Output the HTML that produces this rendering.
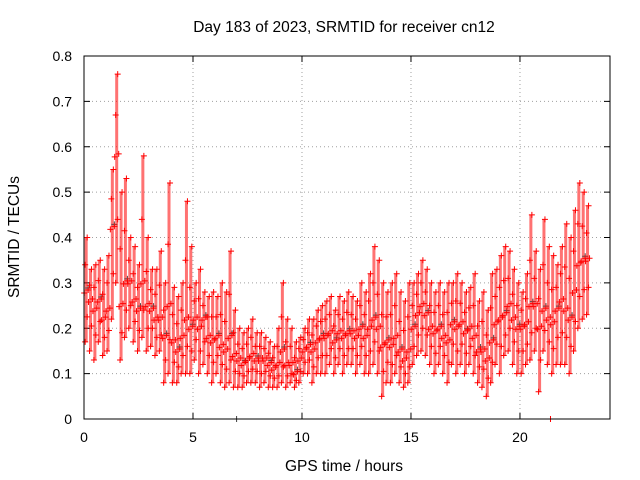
<!DOCTYPE html>
<html><head><meta charset="utf-8"><style>
body{margin:0;background:#fff;}
svg{display:block;font-family:"Liberation Sans",sans-serif;}
</style></head><body>
<svg id="chart" width="640" height="480" viewBox="0 0 640 480">
<rect width="640" height="480" fill="#fff"/>
<text x="344" y="32" font-size="15.5" text-anchor="middle">Day 183 of 2023, SRMTID for receiver cn12</text>
<text transform="translate(19,237) rotate(-90)" font-size="15.5" text-anchor="middle">SRMTID / TECUs</text>
<text x="344" y="471" font-size="15.5" text-anchor="middle">GPS time / hours</text>
<g id="grid"></g>
<g id="ticks"></g>
<g id="marks"></g>
<rect x="84" y="56" width="526" height="363" fill="none" stroke="#000" stroke-width="1"/>
</svg>
<script>
const xTicks=[0,5,10,15,20];
const yTicks=[0,0.1,0.2,0.3,0.4,0.5,0.6,0.7,0.8];
const yTickLabels=["0","0.1","0.2","0.3","0.4","0.5","0.6","0.7","0.8"];
const times=[0,0.2,0.4,0.6,0.8,1.0,1.2,1.4,1.6,1.8,2.0,2.2,2.4,2.6,2.8,3.0,3.2,3.4,3.6,3.8,4.0,4.2,4.4,4.6,4.8,5.0,5.2,5.4,5.6,5.8,6.0,6.2,6.4,6.6,6.8,7.0,7.2,7.4,7.6,7.8,8.0,8.2,8.4,8.6,8.8,9.0,9.2,9.4,9.6,9.8,10.0,10.2,10.4,10.6,10.8,11.0,11.2,11.4,11.6,11.8,12.0,12.2,12.4,12.6,12.8,13.0,13.2,13.4,13.6,13.8,14.0,14.2,14.4,14.6,14.8,15.0,15.2,15.4,15.6,15.8,16.0,16.2,16.4,16.6,16.8,17.0,17.2,17.4,17.6,17.8,18.0,18.2,18.4,18.6,18.8,19.0,19.2,19.4,19.6,19.8,20.0,20.2,20.4,20.6,20.8,21.0,21.2,21.4,21.6,21.8,22.0,22.2,22.4,22.6,22.8,23.0];
const lowVals=[.17,.15,.13,.17,.14,.15,.22,.30,.13,.18,.20,.17,.15,.18,.15,.16,.14,.15,.08,.10,.08,.08,.10,.10,.10,.13,.10,.12,.10,.08,.10,.08,.07,.08,.07,.07,.07,.08,.08,.08,.07,.08,.07,.07,.07,.08,.07,.08,.07,.08,.10,.10,.08,.10,.10,.10,.12,.10,.12,.10,.12,.12,.10,.12,.10,.10,.12,.10,.05,.08,.08,.10,.08,.07,.08,.12,.14,.15,.14,.12,.10,.12,.10,.08,.12,.10,.12,.10,.12,.10,.08,.07,.05,.08,.12,.10,.14,.15,.12,.10,.10,.12,.13,.15,.06,.15,.12,.10,.12,.12,.12,.10,.15,.20,.22,.23];
const midVals=[.28,.26,.24,.26,.22,.24,.42,.58,.25,.30,.30,.26,.24,.30,.25,.24,.22,.22,.18,.25,.17,.15,.18,.22,.20,.22,.20,.22,.18,.17,.18,.16,.15,.18,.14,.13,.12,.13,.14,.13,.13,.13,.12,.11,.12,.15,.12,.12,.10,.13,.15,.16,.15,.17,.18,.18,.19,.17,.19,.18,.19,.19,.18,.20,.18,.20,.22,.20,.16,.17,.16,.18,.15,.13,.15,.20,.23,.25,.23,.20,.19,.20,.18,.17,.21,.20,.21,.19,.20,.18,.15,.15,.13,.17,.21,.22,.23,.25,.22,.20,.20,.21,.25,.25,.20,.24,.22,.21,.24,.26,.24,.22,.28,.34,.35,.35];
const highVals=[.40,.33,.34,.35,.33,.36,.55,.76,.50,.53,.40,.38,.34,.58,.40,.33,.33,.37,.30,.52,.29,.27,.30,.48,.38,.30,.33,.28,.27,.28,.27,.30,.28,.37,.24,.20,.19,.20,.22,.19,.19,.18,.17,.16,.20,.30,.22,.20,.17,.18,.20,.22,.22,.24,.25,.26,.27,.24,.27,.26,.28,.27,.26,.30,.28,.32,.38,.35,.30,.28,.30,.32,.28,.26,.30,.30,.32,.35,.33,.30,.28,.30,.28,.30,.30,.32,.30,.28,.29,.32,.26,.28,.24,.32,.33,.36,.38,.37,.33,.30,.28,.32,.45,.37,.33,.44,.38,.36,.34,.38,.43,.40,.46,.52,.50,.47];
const outlierTimes=[7.0,21.4];
const outlierVals=[0.0,0.0];

const NS="http://www.w3.org/2000/svg";
const X0=84,X1=610,Y0=419,Y1=56,XMAX=24.13,YMAX=0.8;
function xs(t){return X0+(X1-X0)*t/XMAX;}
function ys(v){return Y0-(Y0-Y1)*v/YMAX;}
function mk(tag,attrs,parent){const e=document.createElementNS(NS,tag);for(const k in attrs)e.setAttribute(k,attrs[k]);parent.appendChild(e);return e;}
const grid=document.getElementById('grid'),ticks=document.getElementById('ticks'),marks=document.getElementById('marks');
xTicks.forEach((t,i)=>{
  const x=xs(t);
  if(t>0){const g=mk('line',{x1:x,x2:x,y1:Y1,y2:Y0,stroke:'#a0a0a0','stroke-dasharray':'1,3'},grid);
  
  }
  mk('line',{x1:x,x2:x,y1:Y0,y2:Y0-6,stroke:'#000'},ticks);
  mk('line',{x1:x,x2:x,y1:Y1,y2:Y1+6,stroke:'#000'},ticks);
  const l=mk('text',{x:x,y:Y0+23,'font-size':14,'text-anchor':'middle'},ticks);l.textContent=String(t);
  
  
});
yTicks.forEach((v,i)=>{
  const y=ys(v);
  if(v>0&&v<YMAX){const g=mk('line',{x1:X0,x2:X1,y1:y,y2:y,stroke:'#a0a0a0','stroke-dasharray':'1,3'},grid);
  
  }
  mk('line',{x1:X0,x2:X0+6,y1:y,y2:y,stroke:'#000'},ticks);
  mk('line',{x1:X1,x2:X1-6,y1:y,y2:y,stroke:'#000'},ticks);
  const l=mk('text',{x:X0-12,y:y+5,'font-size':14,'text-anchor':'end'},ticks);l.textContent=yTickLabels[i];
  
  
});
function plus(x,y,color){
  const p=mk('path',{d:`M${x-3},${y}h6M${x},${y-3}v6`,stroke:color,'stroke-width':1,fill:'none'},marks);
  
  
}
times.forEach((t,i)=>{
  const x=xs(t+0.1);
  const b=mk('line',{x1:x,x2:x,y1:ys(lowVals[i]),y2:ys(highVals[i]),stroke:'#ff0000','stroke-width':3,opacity:0.55},marks);
  
  
  if(i%3===0)plus(x+2,ys(midVals[i])-4,'#505050');
  plus(x-1,ys(lowVals[i]),'#ff0000');
  plus(x+1,ys((lowVals[i]+midVals[i])/2),'#ff0000');
  plus(x-2,ys(midVals[i])+1,'#ff0000');
  plus(x+2,ys(midVals[i])-2,'#ff0000');
  plus(x-1,ys((midVals[i]+highVals[i])/2),'#ff0000');
  plus(x+1,ys(highVals[i]),'#ff0000');
});
outlierTimes.forEach((t,i)=>plus(xs(t),ys(outlierVals[i]),i?'#ff0000':'#404040'));
</script>
</body></html>
